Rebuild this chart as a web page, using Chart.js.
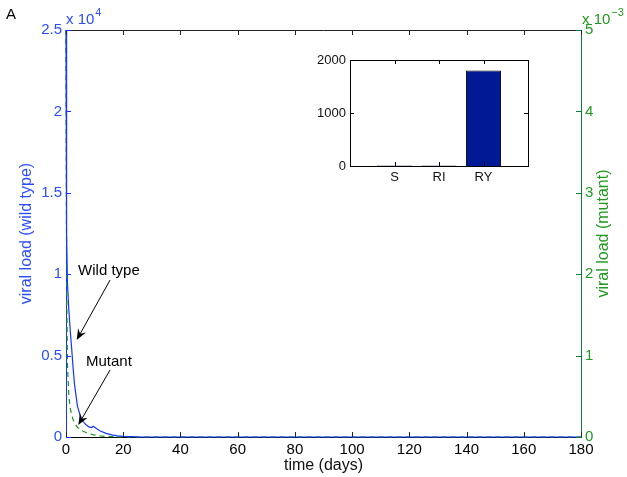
<!DOCTYPE html>
<html>
<head>
<meta charset="utf-8">
<script src="https://cdn.jsdelivr.net/npm/chart.js@4.4.1/dist/chart.umd.min.js"></script>
<style>
    html, body { margin: 0; padding: 0; background: #fff; }
    #wrap { position: relative; width: 627px; height: 477px; }
    #main { position: absolute; left: 0; top: 0; }
    #inset { position: absolute; left: 300px; top: 45px; }
</style>
</head>
<body>
<div id="wrap">
    <canvas id="main" width="627" height="477"></canvas>
    <canvas id="inset" width="240" height="140"></canvas>
</div>
<script>
// Time points (days)
const timeDays = [0, 0.2, 0.5, 1, 1.5, 2, 2.5, 3, 4, 5, 6, 7, 8, 9, 9.5, 10,
    11, 12, 14, 16, 18, 20, 25, 30, 40, 60, 80, 100, 120, 140, 160, 180];
// Wild type viral load (x 10^4), left axis
const wildTypeLoad = [2.5, 1.25, 0.95, 0.78, 0.65, 0.54, 0.42, 0.32, 0.19, 0.13, 0.095, 0.075, 0.062, 0.058, 0.066, 0.06,
    0.047, 0.037, 0.022, 0.013, 0.007, 0.004, 0.001, 0, 0, 0, 0, 0, 0, 0, 0, 0];
// Mutant viral load (x 10^-3), right axis
const mutantLoad = [5, 2.0, 0.9, 0.5, 0.35, 0.27, 0.21, 0.17, 0.12, 0.09, 0.07, 0.055, 0.042, 0.032, 0.028, 0.024,
    0.018, 0.013, 0.007, 0.004, 0.002, 0.001, 0, 0, 0, 0, 0, 0, 0, 0, 0, 0];

// Tick values
const timeTicks = [0, 20, 40, 60, 80, 100, 120, 140, 160, 180];
const wildTicks = [0, 0.5, 1, 1.5, 2, 2.5];
const mutantTicks = [0, 1, 2, 3, 4, 5];

// Inset bar chart
const insetLabels = ['', 'S', 'RI', 'RY', ''];
const insetValues = [null, 10, 10, 1800, null];
const insetTicks = [0, 1000, 2000];

// Text arrows, in data units (days, x 10^4)
const notes = [
    { text: 'Wild type', at: [15.0, 1.02], from: [15.4, 0.964], to: [3.74, 0.596] },
    { text: 'Mutant', at: [15.0, 0.46], from: [15.4, 0.412], to: [4.3, 0.074] }
];

const BLUE_TEXT = '#2a4dff';
const BLUE_LINE = '#1436ff';
const GREEN_TEXT = '#1f9a1f';
const GREEN_AXIS = '#0b7d3c';
const GREEN_LINE = '#159615';
const FONT = "'Liberation Sans', Arial, Helvetica, sans-serif";

Chart.defaults.font.family = FONT;

function seg(ctx, x0, y0, x1, y1) {
    ctx.beginPath();
    ctx.moveTo(x0, y0);
    ctx.lineTo(x1, y1);
    ctx.stroke();
}

// MATLAB style notched arrow head
function arrow(ctx, x0, y0, x1, y1) {
    const ang = Math.atan2(y1 - y0, x1 - x0);
    const c = Math.cos(ang), s = Math.sin(ang);
    const L = 11, W = 4.5;
    seg(ctx, x0, y0, x1 - c * L * 0.6, y1 - s * L * 0.6);
    ctx.beginPath();
    ctx.moveTo(x1, y1);
    ctx.lineTo(x1 - c * L - s * W, y1 - s * L + c * W);
    ctx.lineTo(x1 - c * L * 0.65, y1 - s * L * 0.65);
    ctx.lineTo(x1 - c * L + s * W, y1 - s * L - c * W);
    ctx.closePath();
    ctx.fill();
}

function px(v) {
    return Math.round(v) + 0.5;
}

const mainDecor = {
    id: 'mainDecor',
    afterDatasetsDraw(chart) {
        const { ctx, chartArea: a, scales } = chart;
        ctx.save();
        ctx.lineWidth = 1;

        // top edge of the box
        ctx.strokeStyle = '#222';
        seg(ctx, a.left, px(a.top), a.right, px(a.top));

        // inward ticks
        timeTicks.forEach(v => {
            const x = px(scales.x.getPixelForValue(v));
            seg(ctx, x, a.bottom, x, a.bottom - 5);
            seg(ctx, x, a.top, x, a.top + 5);
        });
        ctx.strokeStyle = BLUE_LINE;
        wildTicks.forEach(v => {
            const y = px(scales.y.getPixelForValue(v));
            seg(ctx, a.left, y, a.left + 5, y);
        });
        ctx.strokeStyle = GREEN_AXIS;
        mutantTicks.forEach(v => {
            const y = px(scales.y2.getPixelForValue(v));
            seg(ctx, a.right, y, a.right - 5, y);
        });

        // exponent labels
        ctx.textBaseline = 'alphabetic';
        ctx.textAlign = 'left';
        ctx.fillStyle = BLUE_TEXT;
        ctx.font = '15px ' + FONT;
        ctx.fillText('x 10', a.left, 24);
        let w = ctx.measureText('x 10').width;
        ctx.font = '11px ' + FONT;
        ctx.fillText('4', a.left + w + 1, 16);

        ctx.fillStyle = GREEN_TEXT;
        ctx.font = '15px ' + FONT;
        ctx.fillText('x 10', a.right + 1, 24);
        w = ctx.measureText('x 10').width;
        ctx.font = '11px ' + FONT;
        ctx.fillText('\u22123', a.right + 2 + w, 16);

        // panel letter
        ctx.fillStyle = '#000';
        ctx.font = '15px ' + FONT;
        ctx.fillText('A', 6, 19);

        // right axis title (reads bottom to top)
        ctx.save();
        ctx.translate(604, (a.top + a.bottom) / 2);
        ctx.rotate(-Math.PI / 2);
        ctx.textAlign = 'center';
        ctx.textBaseline = 'middle';
        ctx.fillStyle = GREEN_TEXT;
        ctx.font = '16px ' + FONT;
        ctx.fillText('viral load (mutant)', 0, 0);
        ctx.restore();

        // text arrows
        ctx.fillStyle = '#000';
        ctx.strokeStyle = '#000';
        ctx.font = '15px ' + FONT;
        ctx.textAlign = 'center';
        ctx.textBaseline = 'middle';
        notes.forEach(n => {
            const sx = scales.x, sy = scales.y;
            ctx.fillText(n.text, sx.getPixelForValue(n.at[0]), sy.getPixelForValue(n.at[1]));
            arrow(ctx,
                sx.getPixelForValue(n.from[0]), sy.getPixelForValue(n.from[1]),
                sx.getPixelForValue(n.to[0]), sy.getPixelForValue(n.to[1]));
        });
        ctx.restore();
    }
};

const mainChart = new Chart(document.getElementById('main'), {
    type: 'line',
    data: {
        datasets: [{
            label: 'Wild type',
            data: timeDays.map((t, i) => ({ x: t, y: wildTypeLoad[i] })),
            yAxisID: 'y',
            borderColor: BLUE_LINE,
            borderWidth: 1.2,
            pointRadius: 0,
            tension: 0,
            clip: 2
        }, {
            label: 'Mutant',
            data: timeDays.map((t, i) => ({ x: t, y: mutantLoad[i] })),
            yAxisID: 'y2',
            borderColor: GREEN_LINE,
            borderWidth: 1.2,
            borderDash: [5, 4],
            pointRadius: 0,
            tension: 0,
            clip: 2
        }]
    },
    options: {
        responsive: false,
        animation: false,
        layout: { padding: { top: 30, left: 0, right: 0, bottom: 0 } },
        plugins: { legend: { display: false }, tooltip: { enabled: false } },
        scales: {
            x: {
                type: 'linear',
                min: 0,
                max: 180,
                afterBuildTicks: s => { s.ticks = timeTicks.map(v => ({ value: v })); },
                afterFit: s => { s.height = 40; },
                grid: { display: false, drawTicks: false },
                border: { color: '#000', width: 1 },
                ticks: { color: '#000', font: { size: 15 }, padding: 4, maxRotation: 0, callback: v => String(v) },
                title: { display: true, text: 'time (days)', color: '#111', font: { size: 16 }, padding: { top: 0, bottom: 2 } }
            },
            y: {
                position: 'left',
                min: 0,
                max: 2.5,
                afterBuildTicks: s => { s.ticks = wildTicks.map(v => ({ value: v })); },
                afterFit: s => { s.width = 66; },
                grid: { display: false, drawTicks: false },
                border: { color: BLUE_LINE, width: 1 },
                ticks: { color: BLUE_TEXT, font: { size: 15 }, padding: 4, callback: v => String(v) },
                title: { display: true, text: 'viral load (wild type)', color: BLUE_TEXT, font: { size: 16 }, padding: { top: 17, bottom: 0 } }
            },
            y2: {
                position: 'right',
                min: 0,
                max: 5,
                afterBuildTicks: s => { s.ticks = mutantTicks.map(v => ({ value: v })); },
                afterFit: s => { s.width = 46; },
                grid: { display: false, drawTicks: false },
                border: { color: GREEN_AXIS, width: 1 },
                ticks: { color: GREEN_TEXT, font: { size: 15 }, padding: 4, callback: v => String(v) }
            }
        }
    },
    plugins: [mainDecor]
});

const insetDecor = {
    id: 'insetDecor',
    beforeDraw(chart) {
        const { ctx, chartArea: a } = chart;
        ctx.save();
        ctx.fillStyle = '#fff';
        ctx.fillRect(a.left, a.top, a.right - a.left, a.bottom - a.top);
        ctx.restore();
    },
    afterDraw(chart) {
        const { ctx, chartArea: a, scales } = chart;
        ctx.save();
        ctx.strokeStyle = '#000';
        ctx.lineWidth = 1;
        ctx.strokeRect(px(a.left), px(a.top), Math.round(a.right - a.left), Math.round(a.bottom - a.top));
        insetTicks.forEach(v => {
            const y = px(scales.y.getPixelForValue(v));
            seg(ctx, a.left, y, a.left + 4, y);
            seg(ctx, a.right, y, a.right - 4, y);
        });
        insetLabels.forEach((l, i) => {
            if (!l) return;
            const x = px(scales.x.getPixelForValue(i));
            seg(ctx, x, a.bottom, x, a.bottom - 4);
            seg(ctx, x, a.top, x, a.top + 4);
        });
        ctx.restore();
    }
};

const insetChart = new Chart(document.getElementById('inset'), {
    type: 'bar',
    data: {
        labels: insetLabels,
        datasets: [{
            data: insetValues,
            backgroundColor: '#001a96',
            borderColor: '#000',
            borderWidth: 1,
            barPercentage: 0.79,
            categoryPercentage: 1
        }]
    },
    options: {
        responsive: false,
        animation: false,
        layout: { padding: { top: 15, right: 12, left: 0, bottom: 0 } },
        plugins: { legend: { display: false }, tooltip: { enabled: false } },
        scales: {
            x: {
                offset: false,
                afterFit: s => { s.height = 19; },
                grid: { display: false, drawTicks: false },
                border: { display: false },
                ticks: { color: '#111', font: { size: 13 }, padding: 4, autoSkip: false, maxRotation: 0 }
            },
            y: {
                min: 0,
                max: 2000,
                afterBuildTicks: s => { s.ticks = insetTicks.map(v => ({ value: v })); },
                afterFit: s => { s.width = 50; },
                grid: { display: false, drawTicks: false },
                border: { display: false },
                ticks: { color: '#111', font: { size: 13 }, padding: 4, callback: v => String(v) }
            }
        }
    },
    plugins: [insetDecor]
});
</script>
</body>
</html>
